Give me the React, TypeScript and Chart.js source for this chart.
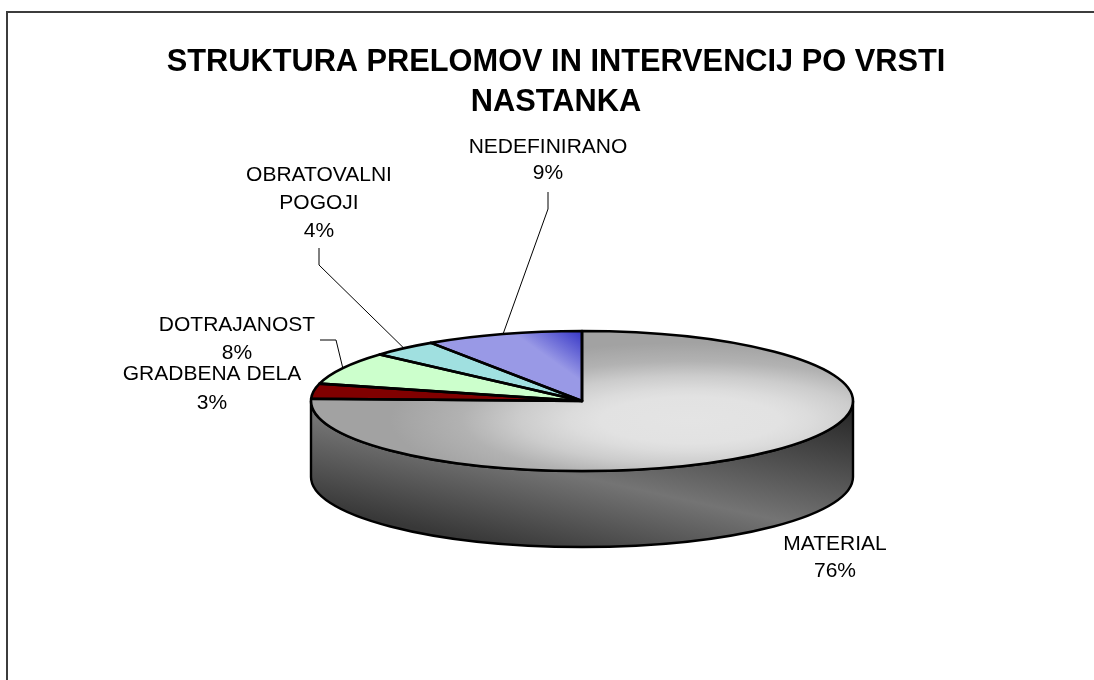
import React, { useEffect, useRef } from "react";
import { Chart, registerables } from "chart.js";

Chart.register(...registerables);

const titleLines = ["STRUKTURA PRELOMOV IN INTERVENCIJ PO VRSTI", "NASTANKA"];
const categories = ["MATERIAL", "GRADBENA DELA", "DOTRAJANOST", "OBRATOVALNI POGOJI", "NEDEFINIRANO"];
const shares = [75.5, 3.49, 7.6, 4.0, 9.41];
const labelLines = [["MATERIAL"], ["GRADBENA DELA"], ["DOTRAJANOST"], ["OBRATOVALNI", "POGOJI"], ["NEDEFINIRANO"]];

// Layout of the drawing (not data)
const CX = 582;
const CY = 401;
const RX = 271;
const RY = 70;
const DEPTH = 76;
const K = RY / RX;
const labelCentres = [
  { x: 835, y: 544, lh: 27 },
  { x: 212, y: 374, lh: 29 },
  { x: 237, y: 325, lh: 28 },
  { x: 319, y: 175, lh: 28 },
  { x: 548, y: 147, lh: 26 },
];
const leaderElbows: number[][][] = [
  [],
  [],
  [[320, 340], [336, 340]],
  [[319, 248], [319, 265]],
  [[548, 192], [548, 209]],
];

const pie3d = {
  id: "pie3d",
  afterLayout(chart: any) {
    chart.chartArea = { left: CX - RX, right: CX + RX, top: CY - RX, bottom: CY + RX, width: 2 * RX, height: 2 * RX };
  },
  beforeDraw(chart: any) {
    const c = chart.ctx;
    c.save();
    c.strokeStyle = "#3c3c3c";
    c.lineWidth = 2;
    c.beginPath();
    c.moveTo(7, 680);
    c.lineTo(7, 12);
    c.lineTo(1094, 12);
    c.stroke();
    c.restore();
  },
  beforeDatasetsDraw(chart: any) {
    const c = chart.ctx;
    const arcs = chart.getDatasetMeta(0).data;
    c.save();
    const wall = c.createLinearGradient(667, 368, 622, 573);
    wall.addColorStop(0, "#262626");
    wall.addColorStop(0.595, "#747474");
    wall.addColorStop(1, "#383838");
    arcs.forEach((a: any) => {
      const p = a.getProps(["startAngle", "endAngle", "x", "y", "outerRadius"], true);
      const a0 = Math.max(p.startAngle, 0);
      const a1 = Math.min(p.endAngle, Math.PI);
      if (a1 <= a0) return;
      const ry = p.outerRadius * K;
      c.beginPath();
      c.ellipse(p.x, p.y, p.outerRadius, ry, 0, a0, a1);
      c.ellipse(p.x, p.y + DEPTH, p.outerRadius, ry, 0, a1, a0, true);
      c.closePath();
      c.fillStyle = wall;
      c.fill();
      c.strokeStyle = "#000";
      c.lineWidth = 2.4;
      c.stroke();
    });
    c.restore();
    c.save();
    c.translate(0, CY);
    c.scale(1, K);
    c.translate(0, -CY);
  },
  afterDatasetsDraw(chart: any) {
    const c = chart.ctx;
    c.restore();
    c.save();
    c.strokeStyle = "#000";
    c.lineWidth = 2.6;
    c.lineJoin = "round";
    chart.getDatasetMeta(0).data.forEach((a: any) => {
      const p = a.getProps(["startAngle", "endAngle", "x", "y", "outerRadius"], true);
      c.beginPath();
      c.moveTo(p.x, p.y);
      c.ellipse(p.x, p.y, p.outerRadius, p.outerRadius * K, 0, p.startAngle, p.endAngle);
      c.closePath();
      c.stroke();
    });
    c.restore();
  },
  afterDraw(chart: any) {
    const c = chart.ctx;
    const arcs = chart.getDatasetMeta(0).data;
    c.save();
    c.font = '21px "Liberation Sans", Arial, sans-serif';
    c.fillStyle = "#000";
    c.textAlign = "center";
    c.textBaseline = "middle";
    arcs.forEach((a: any, i: number) => {
      const p = a.getProps(["startAngle", "endAngle", "x", "y", "outerRadius"], true);
      const place = labelCentres[i];
      const lines = [...labelLines[i], `${Math.round(shares[i])}%`];
      lines.forEach((t, j) => c.fillText(t, place.x, place.y + j * place.lh));
      const elbows = leaderElbows[i];
      if (elbows.length) {
        const mid = (p.startAngle + p.endAngle) / 2;
        c.beginPath();
        c.moveTo(elbows[0][0], elbows[0][1]);
        elbows.slice(1).forEach((e) => c.lineTo(e[0], e[1]));
        c.lineTo(p.x + p.outerRadius * Math.cos(mid), p.y + p.outerRadius * K * Math.sin(mid));
        c.strokeStyle = "#000";
        c.lineWidth = 1;
        c.stroke();
      }
    });
    c.restore();
  },
};

export default function App() {
  const ref = useRef<HTMLCanvasElement>(null);
  useEffect(() => {
    const canvas = ref.current!;
    const c = canvas.getContext("2d")!;
    // Gradients are given in the unsquashed pie space; the plugin flattens them.
    const face = c.createRadialGradient(690, 475, 0, 690, 475, 300);
    face.addColorStop(0, "#e4e4e4");
    face.addColorStop(0.3, "#e2e2e2");
    face.addColorStop(0.4, "#dcdcdc");
    face.addColorStop(0.57, "#cccccc");
    face.addColorStop(0.76, "#b2b2b2");
    face.addColorStop(1, "#a2a2a2");
    const blue = c.createLinearGradient(582, 130, 519, 153);
    blue.addColorStop(0, "#3636c6");
    blue.addColorStop(1, "#9999e6");
    const chart = new Chart(canvas, {
      type: "pie",
      data: {
        labels: categories,
        datasets: [
          {
            data: shares,
            backgroundColor: [face, "#800000", "#ccffcc", "#a0e0e0", blue],
            borderWidth: 0,
            clip: false,
          } as any,
        ],
      },
      options: {
        responsive: false,
        animation: false,
        layout: { padding: { left: 18, right: 0, top: 0, bottom: 0 } },
        plugins: {
          legend: { display: false },
          tooltip: { enabled: false },
          title: {
            display: true,
            text: titleLines,
            color: "#000",
            font: { family: '"Liberation Sans", Arial, sans-serif', size: 30.75, weight: "bold", lineHeight: 40 / 30.75 },
            padding: { top: 43, bottom: 0 },
          },
        },
      },
      plugins: [pie3d],
    } as any);
    return () => chart.destroy();
  }, []);
  return (
    <canvas
      ref={ref}
      width={1094}
      height={680}
      style={{ position: "absolute", left: 0, top: 0, display: "block", width: 1094, height: 680 }}
    />
  );
}
